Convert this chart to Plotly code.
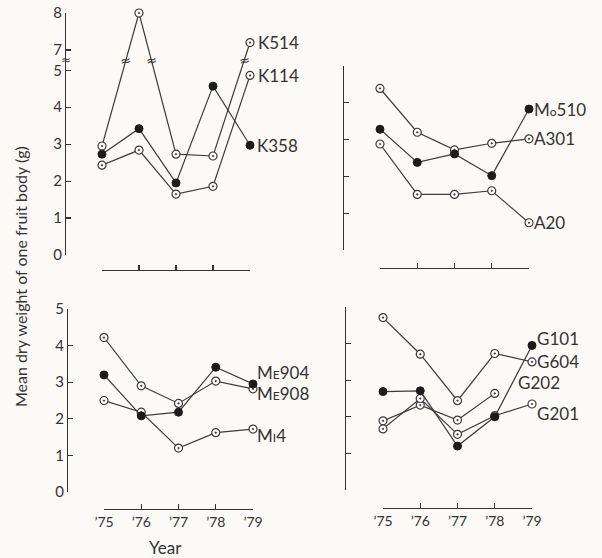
import plotly.graph_objects as go

# ---------------- data ----------------
years = [1975, 1976, 1977, 1978, 1979]
year_labels = ["’75", "’76", "’77", "’78", "’79"]

# top-left panel (broken y axis: 5 ≈ 7)
K514 = [2.95, 8.0, 2.73, 2.68, 7.2]
K358 = [2.73, 3.42, 1.95, 4.57, 2.97]
K114 = [2.43, 2.84, 1.65, 1.86, 4.86]

# top-right panel
Mo510 = [3.28, 2.38, 2.61, 2.02, 3.83]
A301 = [4.39, 3.20, 2.72, 2.90, 3.02]
A20 = [2.88, 1.51, 1.51, 1.61, 0.74]

# bottom-left panel
ME904 = [3.20, 2.08, 2.18, 3.41, 2.95]
ME908 = [4.22, 2.90, 2.42, 3.03, 2.82]
MI4 = [2.50, 2.18, 1.20, 1.62, 1.72]

# bottom-right panel
G101 = [2.69, 2.71, 1.20, 2.00, 3.95]
G604 = [4.71, 3.71, 2.44, 3.73, 3.50]
G202 = [1.89, 2.32, 1.91, 2.64, None]
G201 = [1.67, 2.50, 1.52, 2.03, 2.35]

left_ticks = [0, 1, 2, 3, 4, 5]
broken_ticks = [0, 1, 2, 3, 4, 5, 7, 8]

# ---------------- helpers ----------------
BREAK_LO, BREAK_SHIFT = 5.3, 1.45


def disp(v):
    """Map a value onto the broken axis of the top-left panel."""
    if v is None:
        return None
    return v - BREAK_SHIFT if v > BREAK_LO else v


W, H = 602, 558
FONT = "Lato"
INK = "#333333"
LINE = dict(color="#3c3c3c", width=1.2)
OPEN = dict(symbol="circle-dot", size=8, color="white",
            line=dict(color="#3c3c3c", width=1.2))
FILLED = dict(symbol="circle", size=8, color="#1c1c1c",
              line=dict(color="#1c1c1c", width=1))

fig = go.Figure()


def add(vals, ax, filled, transform=None):
    ys = [transform(v) for v in vals] if transform else vals
    fig.add_trace(go.Scatter(
        x=years, y=ys, mode="lines+markers", xaxis=ax[0], yaxis=ax[1],
        line=LINE, marker=FILLED if filled else OPEN,
        cliponaxis=False, showlegend=False, hoverinfo="skip"))


add(K514, ("x", "y"), False, disp)
add(K114, ("x", "y"), False, disp)
add(K358, ("x", "y"), True, disp)

add(A301, ("x2", "y2"), False)
add(A20, ("x2", "y2"), False)
add(Mo510, ("x2", "y2"), True)

add(ME908, ("x3", "y3"), False)
add(MI4, ("x3", "y3"), False)
add(ME904, ("x3", "y3"), True)

add(G604, ("x4", "y4"), False)
add(G202, ("x4", "y4"), False)
add(G201, ("x4", "y4"), False)
add(G101, ("x4", "y4"), True)


# ---------------- axes ----------------
def px_x(p):
    return p / W


def px_y(p):
    return 1 - p / H


axis_common = dict(showgrid=False, zeroline=False, showline=True,
                   linecolor=INK, linewidth=1.2, ticks="inside", ticklen=5,
                   tickcolor=INK, tickwidth=1.2, automargin=False,
                   tickfont=dict(family=FONT, size=15, color=INK))

# panel geometry in pixels: (x75, x79, y0, ytop, yaxis_x, xaxis_y, ymax)
panels = {
    "1": (102, 250, 255, 13, 65, 270, disp(8)),
    "2": (380, 529, 250, 66, 343, 268, 5),
    "3": (104, 253, 492, 309, 67, 509, 5),
    "4": (383, 532, 490, 307, 345, 508, 5),
}

layout = {}
for k, (x75, x79, y0, yt, yax, xax, ymax) in panels.items():
    xs = "xaxis" if k == "1" else f"xaxis{k}"
    ys = "yaxis" if k == "1" else f"yaxis{k}"
    show_x = k in ("3", "4")
    show_y = k in ("1", "3")
    layout[xs] = dict(axis_common, domain=[px_x(x75), px_x(x79)],
                      range=[years[0], years[-1]], anchor="free",
                      position=px_y(xax), tickvals=years,
                      ticktext=year_labels, showticklabels=show_x,
                      tickfont=dict(family=FONT, size=14, color=INK))
    ydict = dict(axis_common, domain=[px_y(y0), px_y(yt)], range=[0, ymax],
                 anchor="free", position=px_x(yax), showticklabels=show_y)
    if k == "1":
        ydict.update(tickvals=[disp(t) for t in broken_ticks],
                     ticktext=[str(t) for t in broken_ticks])
    else:
        ydict.update(tickvals=left_ticks, ticktext=[str(t) for t in left_ticks])
    layout[ys] = ydict

fig.update_layout(**layout)

# ---------------- annotations ----------------
ann = []


def label(text, ax, xval, yval, xshift, yshift):
    ann.append(dict(text=text, xref=ax[0], yref=ax[1], x=xval, y=yval,
                    xanchor="left", yanchor="middle", showarrow=False,
                    xshift=xshift, yshift=yshift,
                    font=dict(family=FONT, size=17, color=INK)))


small = "<span style='font-size:12px'>{}</span>"
label("K514", ("x", "y"), years[-1], disp(K514[-1]), 6, 0)
label("K114", ("x", "y"), years[-1], disp(K114[-1]), 6, 0)
label("K358", ("x", "y"), years[-1], disp(K358[-1]), 5, 0)
label("M" + small.format("o") + "510", ("x2", "y2"), years[-1], Mo510[-1], 3, 0)
label("A301", ("x2", "y2"), years[-1], A301[-1], 3, 0)
label("A20", ("x2", "y2"), years[-1], A20[-1], 3, 0)
label("M" + small.format("E") + "904", ("x3", "y3"), years[-1], ME904[-1], 2, 12)
label("M" + small.format("E") + "908", ("x3", "y3"), years[-1], ME908[-1], 2, -5)
label("M" + small.format("I") + "4", ("x3", "y3"), years[-1], MI4[-1], 2, -6)
label("G101", ("x4", "y4"), years[-1], G101[-1], 3, 7)
label("G604", ("x4", "y4"), years[-1], G604[-1], 3, 0)
label("G202", ("x4", "y4"), years[3], G202[3], 21, 11)
label("G201", ("x4", "y4"), years[-1], G201[-1], 3, -10)

# break marks: on the axis and where the K514 line crosses the break level
brk_disp = 5.27
ann.append(dict(text="≈", xref="paper", yref="y", x=px_x(66), y=brk_disp,
                showarrow=False, xanchor="center", yanchor="middle",
                font=dict(family="DejaVu Sans", size=12, color=INK)))
for i in range(len(years) - 1):
    a, b = disp(K514[i]), disp(K514[i + 1])
    if (a - brk_disp) * (b - brk_disp) < 0:
        t = (brk_disp - a) / (b - a)
        ann.append(dict(text="≈", xref="x", yref="y",
                        x=years[i] + t * (years[i + 1] - years[i]),
                        y=brk_disp, showarrow=False, xanchor="center",
                        yanchor="middle", textangle=-10,
                        font=dict(family="DejaVu Sans", size=13, color=INK)))

ann.append(dict(text="Year", xref="paper", yref="paper", x=px_x(166),
                y=px_y(547), showarrow=False, xanchor="center",
                yanchor="middle", font=dict(family=FONT, size=17, color=INK)))
ann.append(dict(text="Mean dry weight of one fruit body (g)", xref="paper",
                yref="paper", x=px_x(20), y=px_y(277), textangle=-90,
                showarrow=False, xanchor="center", yanchor="middle",
                font=dict(family=FONT, size=16, color=INK)))

fig.update_layout(annotations=ann, width=W, height=H,
                  margin=dict(l=0, r=0, t=0, b=0, pad=0, autoexpand=False),
                  paper_bgcolor="#fbfaf6", plot_bgcolor="#fbfaf6")

fig.write_html("out.html",
               config={"displayModeBar": False, "staticPlot": True},
               post_script="document.body.style.margin='0';"
                           "document.body.style.overflow='hidden';")
